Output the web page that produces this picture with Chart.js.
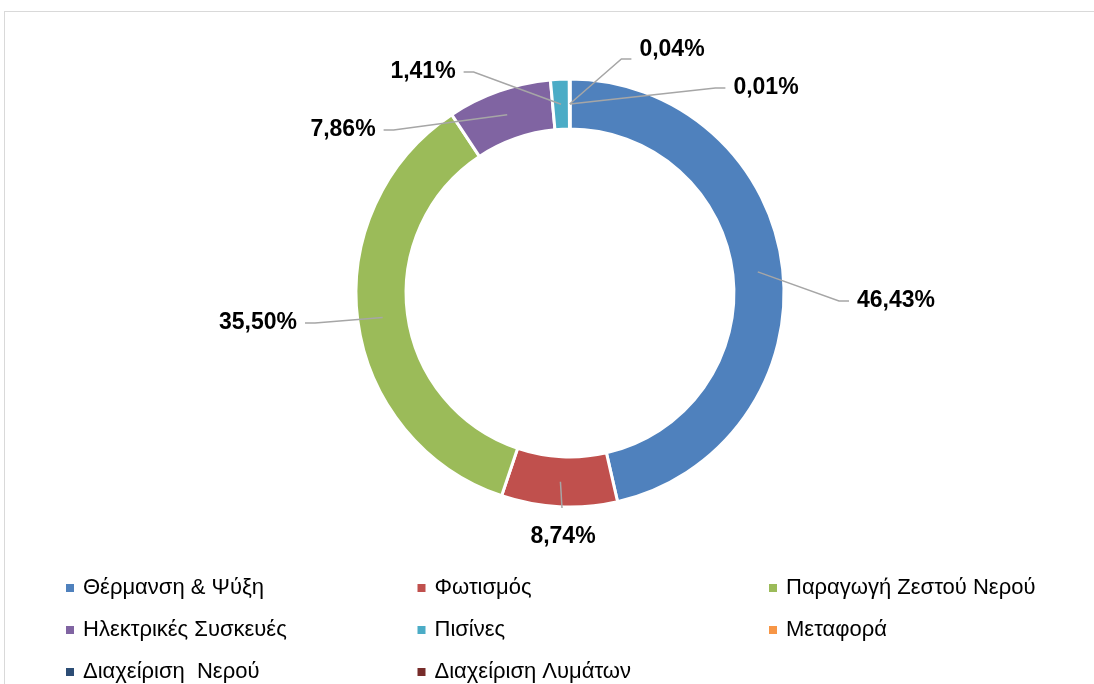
<!DOCTYPE html>
<html>
<head>
<meta charset="utf-8">
<script src="https://cdn.jsdelivr.net/npm/chart.js@4/dist/chart.umd.min.js"></script>
<style>
    html, body { margin: 0; padding: 0; background: #fff; overflow: hidden; }
    #wrap { position: relative; width: 1094px; height: 684px; }
    #frame {
        position: absolute; left: 4px; top: 11px; width: 1100px; height: 700px;
        border: 1px solid #d9d9d9; box-sizing: border-box;
    }
    canvas { position: absolute; left: 0; top: 0; }
</style>
</head>
<body>
<div id="wrap">
    <div id="frame"></div>
    <canvas id="energyChart" width="1094" height="684"></canvas>
</div>
<script>
const categories = [
    'Θέρμανση & Ψύξη',
    'Φωτισμός',
    'Παραγωγή Ζεστού Νερού',
    'Ηλεκτρικές Συσκευές',
    'Πισίνες',
    'Μεταφορά',
    'Διαχείριση  Νερού',
    'Διαχείριση Λυμάτων'
];
const shares = [46.43, 8.74, 35.50, 7.86, 1.41, 0.04, 0.01, 0];
const sliceColors = ['#4f81bd', '#c0504d', '#9bbb59', '#8064a2', '#4bacc6', '#f79646', '#2c4d75', '#772c2a'];

// where each value label sits, relative to the ring centre (text centre)
const labelPlacement = [
    { dx: 326, dy: 8, side: 'right' },
    { dx: -7, dy: 244, side: 'below' },
    { dx: -312, dy: 30, side: 'left' },
    { dx: -227, dy: -163, side: 'left' },
    { dx: -147, dy: -221, side: 'left' },
    { dx: 102, dy: -243, side: 'right', tailDy: 9 },
    { dx: 196, dy: -205, side: 'right' },
    null
];

function formatShare(v) {
    return v.toFixed(2).replace('.', ',') + '%';
}

const valueLabels = {
    id: 'valueLabels',
    afterDatasetsDraw(chart) {
        const ctx = chart.ctx;
        const meta = chart.getDatasetMeta(0);
        ctx.save();
        ctx.font = 'bold 23px "Liberation Sans", Arial, sans-serif';
        ctx.textBaseline = 'middle';
        ctx.textAlign = 'center';
        meta.data.forEach((arc, i) => {
            const place = labelPlacement[i];
            if (!place || !shares[i]) return;
            const mid = (arc.startAngle + arc.endAngle) / 2;
            const r = (arc.innerRadius + arc.outerRadius) / 2;
            const sx = arc.x + Math.cos(mid) * r;
            const sy = arc.y + Math.sin(mid) * r;
            const text = formatShare(shares[i]);
            const tx = arc.x + place.dx;
            const ty = arc.y + place.dy;
            const w = ctx.measureText(text).width;

            ctx.strokeStyle = '#a6a6a6';
            ctx.lineWidth = 1.5;
            ctx.beginPath();
            ctx.moveTo(sx, sy);
            if (place.side === 'below') {
                ctx.lineTo(tx - 1, ty - 29);
            } else {
                const dir = place.side === 'right' ? -1 : 1;
                const endX = tx + dir * (w / 2 + 8);
                const endY = ty + (place.tailDy || 0);
                ctx.lineTo(endX + dir * 10, endY);
                ctx.lineTo(endX, endY);
            }
            ctx.stroke();

            ctx.fillStyle = '#000';
            ctx.fillText(text, tx, ty);
        });
        ctx.restore();
    }
};

// legend in three fixed columns under the ring
const columnLegend = {
    id: 'columnLegend',
    afterDraw(chart) {
        const ctx = chart.ctx;
        ctx.save();
        ctx.font = '22px "Liberation Sans", Arial, sans-serif';
        ctx.textBaseline = 'middle';
        ctx.textAlign = 'left';
        categories.forEach((name, i) => {
            const col = i % 3;
            const row = Math.floor(i / 3);
            const x = 66 + col * 351.5;
            const y = 588 + row * 42;
            ctx.fillStyle = sliceColors[i];
            ctx.fillRect(x, y - 4, 8, 8);
            ctx.fillStyle = '#000';
            ctx.fillText(name, x + 17, y);
        });
        ctx.restore();
    }
};

const ctx = document.getElementById('energyChart').getContext('2d');
const energyChart = new Chart(ctx, {
    type: 'doughnut',
    data: {
        labels: categories,
        datasets: [{
            data: shares,
            backgroundColor: sliceColors,
            borderColor: '#ffffff',
            borderWidth: 3
        }]
    },
    options: {
        responsive: false,
        animation: false,
        cutout: '76.6%',
        layout: {
            padding: { left: 46, right: 0, top: 77.5, bottom: 175.5 }
        },
        plugins: {
            legend: { display: false },
            tooltip: { enabled: false }
        }
    },
    plugins: [valueLabels, columnLegend]
});
</script>
</body>
</html>
